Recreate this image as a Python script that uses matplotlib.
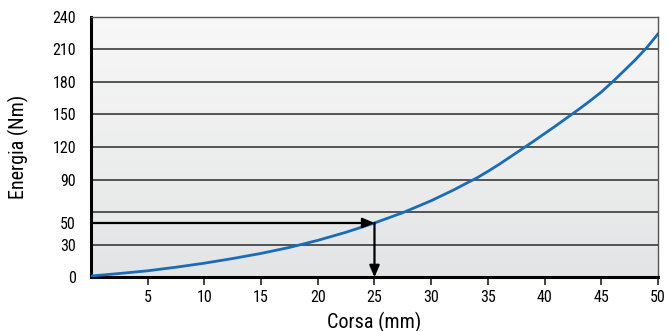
import numpy as np
import matplotlib
matplotlib.use("Agg")
import matplotlib.pyplot as plt
from matplotlib import font_manager as fm
from matplotlib.colors import LinearSegmentedColormap

_names = set(f.name for f in fm.fontManager.ttflist)
_font = 'Liberation Sans'
for cand in ['Roboto Condensed', 'Liberation Sans Narrow', 'Arial Narrow',
             'Archivo Narrow', 'PT Sans Narrow', 'Open Sans Condensed',
             'Fira Sans Condensed', 'IBM Plex Sans Condensed', 'Pragati Narrow']:
    if cand in _names:
        _font = cand
        break
plt.rcParams['font.family'] = [_font, 'DejaVu Sans']

# Data
corsa = [0, 2.5, 5, 7.5, 10, 12.5, 15, 17.5, 20, 22.5, 25, 27.5, 30,
         31, 32, 33, 34, 35, 36, 37, 38, 39, 40, 41, 42, 43, 44, 45,
         46, 47, 48, 49, 50]
energia = [1.2, 3.5, 6, 9.3, 13, 17.3, 22, 27.5, 34, 41.5, 50, 59.5, 70.5,
           75.5, 80.5, 86, 91.3, 97.5, 104, 111, 118, 125, 132.3, 139.5,
           147, 154.5, 162.3, 170.5, 180, 190, 200.2, 211.3, 224]
x_ticks = [5, 10, 15, 20, 25, 30, 35, 40, 45, 50]
y_ticks = [0, 30, 50, 90, 120, 150, 180, 210, 240]
grid_levels = [30, 60, 90, 120, 150, 180, 210, 240]
example_x = 25
example_y = 50

fig = plt.figure(figsize=(6.68, 3.31), dpi=100)
ax = fig.add_axes([0.1362, 0.1622, 0.8488, 0.7878])
ax.set_xlim(0, 50)
ax.set_ylim(0, 240)

grad = np.linspace(0, 1, 256).reshape(-1, 1)
cmap = LinearSegmentedColormap.from_list('bg', ['#e3e4e5', '#f8f8f8'])
ax.imshow(grad, extent=[0, 50, 0, 240], origin='lower', aspect='auto',
          cmap=cmap, zorder=0)

for g in grid_levels:
    ax.axhline(g, color='#2b2b2b', lw=1.1, zorder=1)

ax.plot(corsa, energia, color='#1a6cb4', lw=2.0, zorder=3)

ax.annotate('', xy=(example_x, example_y), xytext=(0, example_y),
            arrowprops=dict(arrowstyle='-|>,head_length=0.7,head_width=0.3',
                            color='black', lw=1.6, shrinkA=0, shrinkB=0),
            zorder=4)
ax.annotate('', xy=(example_x, 0), xytext=(example_x, example_y),
            arrowprops=dict(arrowstyle='-|>,head_length=0.7,head_width=0.3',
                            color='black', lw=1.6, shrinkA=0, shrinkB=0),
            zorder=4)

ax.set_xticks(x_ticks)
ax.set_xticklabels([str(v) for v in x_ticks], fontsize=11.5)
ax.set_yticks(y_ticks)
ax.set_yticklabels([str(v) for v in y_ticks], fontsize=11.5)
ax.tick_params(axis='x', length=6, width=1.2, color='#222222', pad=3)
ax.tick_params(axis='y', length=0, pad=10.8)

for s in ['top', 'right']:
    ax.spines[s].set_color('#555555')
    ax.spines[s].set_linewidth(1.0)
for s in ['left', 'bottom']:
    ax.spines[s].set_color('black')
    ax.spines[s].set_linewidth(2.2)

ax.set_xlabel('Corsa (mm)', fontsize=14.5, labelpad=5)
ax.set_ylabel('Energia (Nm)', fontsize=14.5, labelpad=17)

fig.savefig('out.png', dpi=100)
